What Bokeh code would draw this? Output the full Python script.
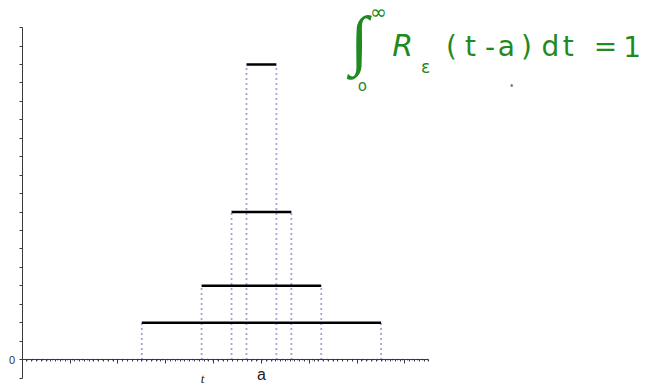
from bokeh.plotting import figure
from bokeh.models import FixedTicker, ColumnDataSource
from bokeh.core.properties import value
from bokeh.embed import file_html
from bokeh.resources import INLINE

# data
a = 5.0
eps = [5.0, 2.5, 1.25, 0.625]
heights = [1 / e for e in eps]
x_major = [0, 1, 2, 3, 4, 5, 6, 7, 8]
x_minor = [i / 10 for i in range(0, 86)]
y_ticks = [i / 10 for i in range(-1, 19)]
x_labels = {5: "a"}
y_labels = {0: "0"}

x_start, x_end = -0.453, 13.11
y_start, y_end = -0.146, 1.947

p = figure(width=649, height=386, x_range=(x_start, x_end), y_range=(y_start, y_end),
           output_backend="svg", toolbar_location=None, min_border=0)
p.background_fill_color = "white"
p.outline_line_color = None
p.grid.visible = False

ax_col = "#3a3a3a"
xa = p.xaxis[0]
xa.fixed_location = 0
xa.bounds = (0, 8.5)
xa.ticker = FixedTicker(ticks=x_major, minor_ticks=x_minor)
xa.major_label_overrides = {t: x_labels.get(t, "") for t in x_major}
xa.axis_line_color = ax_col
xa.major_tick_line_color = ax_col
xa.minor_tick_line_color = ax_col
xa.major_tick_out = 4
xa.major_tick_in = 0
xa.minor_tick_out = 2
xa.minor_tick_in = 0
xa.major_label_standoff = 2
xa.major_label_text_font = "Liberation Sans"
xa.major_label_text_font_size = "16px"
xa.major_label_text_color = "#222222"

ya = p.yaxis[0]
ya.fixed_location = 0
ya.bounds = (-0.1, 1.8)
ya.ticker = FixedTicker(ticks=y_ticks)
ya.major_label_overrides = {t: y_labels.get(t, "") for t in y_ticks}
ya.axis_line_color = ax_col
ya.major_tick_line_color = ax_col
ya.major_tick_out = 3
ya.major_tick_in = 0
ya.minor_tick_line_color = None
ya.major_label_standoff = 4
ya.major_label_text_font = "Liberation Sans"
ya.major_label_text_font_size = "11px"
ya.major_label_text_color = "#333333"

src = ColumnDataSource(dict(
    x0=[a - e / 2 for e in eps],
    x1=[a + e / 2 for e in eps],
    h=heights,
    z=[0.0] * len(eps),
))

dot_col = "#4a4aa6"
# baseline
p.segment(x0=[0], y0=[0], x1=[8.5], y1=[0], line_color=dot_col, line_width=1.8, line_dash="1 4")
# vertical dotted jumps
p.segment(x0="x0", y0="z", x1="x0", y1="h", source=src, line_color=dot_col, line_width=1.8, line_dash="1 4")
p.segment(x0="x1", y0="z", x1="x1", y1="h", source=src, line_color=dot_col, line_width=1.8, line_dash="1 4")
# tops
p.segment(x0="x0", y0="h", x1="x1", y1="h", source=src, line_color="black", line_width=2.5)

# axis name
p.text(x=[3.77], y=[-0.1], text=["t"], text_font=value("Liberation Serif"), text_font_style="italic",
       text_font_size="13px", text_align="center", text_baseline="middle", text_color="#222222")

# handwritten note
g = "#1f8a1f"
p.text(x=[7.05], y=[1.735], text=["∫"], text_font=value("Liberation Serif"), text_font_size="66px",
       text_align="center", text_baseline="middle", text_color=g)
p.text(x=[7.445], y=[1.882], text=["∞"], text_font=value("DejaVu Sans"), text_font_size="20px",
       text_align="center", text_baseline="middle", text_color=g)
p.text(x=[7.11], y=[1.481], text=["o"], text_font=value("DejaVu Sans"), text_font_size="15px",
       text_align="center", text_baseline="middle", text_color=g)
p.text(x=[7.95], y=[1.703], text=["R"], text_font=value("DejaVu Sans"), text_font_style="italic",
       text_font_size="30px", text_align="center", text_baseline="middle", text_color=g)
p.text(x=[8.43], y=[1.589], text=["ε"], text_font=value("DejaVu Sans"), text_font_size="17px",
       text_align="center", text_baseline="middle", text_color=g)
p.text(x=[8.97, 9.37, 9.78, 10.12, 10.54, 11.04, 11.41, 12.19, 12.75], y=[1.70] * 9,
       text=["(", "t", "-", "a", ")", "d", "t", "=", "1"], text_font=value("DejaVu Sans"),
       text_font_size="28px", text_align="center", text_baseline="middle", text_color=g)
p.scatter(x=[10.23], y=[1.486], size=2, color="#6a8a6a")

open("out.html", "w").write(file_html(p, INLINE))
